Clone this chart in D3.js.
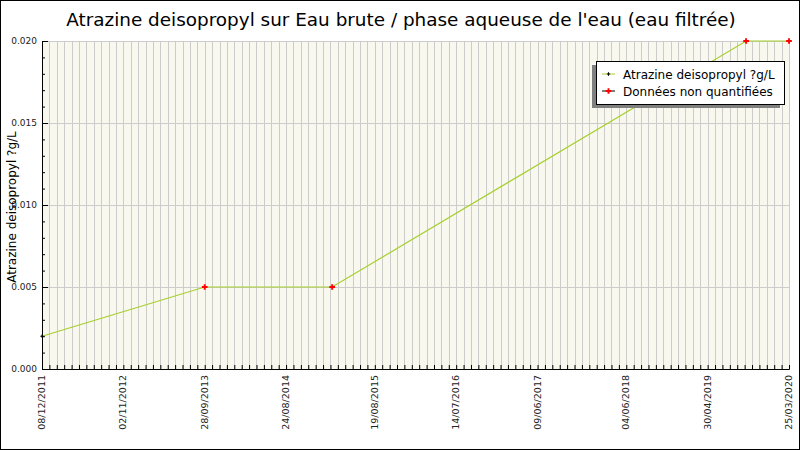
<!DOCTYPE html>
<html>
<head>
<meta charset="utf-8">
<script src="https://cdn.jsdelivr.net/npm/d3@7"></script>
<style>
  body { margin: 0; background: #fff; }
  text { font-family: "DejaVu Sans", sans-serif; }
</style>
</head>
<body>
<script>
var margin = {top: 41, right: 11, bottom: 81, left: 42},
    W = 800, H = 450,
    w = W - margin.left - margin.right,
    h = H - margin.top - margin.bottom;

var title = "Atrazine deisopropyl sur Eau brute / phase aqueuse de l'eau (eau filtrée)";
var yTitle = "Atrazine deisopropyl ?g/L";

// mesures
var dates = ["08/12/2011", "28/09/2013", "27/02/2015", "03/10/2019", "25/03/2020"];
var values = [0.002, 0.005, 0.005, 0.020, 0.020];
var quantified = [true, false, false, false, false];

// axes
var xTickLabels = ["08/12/2011", "02/11/2012", "28/09/2013", "24/08/2014", "19/08/2015",
                   "14/07/2016", "09/06/2017", "04/06/2018", "30/04/2019", "25/03/2020"];
var yTicks = [0, 0.005, 0.010, 0.015, 0.020];
var legendLabels = ["Atrazine deisopropyl ?g/L", "Données non quantifiées"];

var parse = d3.timeParse("%d/%m/%Y");
var data = dates.map(function(d, i) { return {date: parse(d), value: values[i], q: quantified[i]}; });
var xStart = parse(xTickLabels[0]), xEnd = parse(xTickLabels[xTickLabels.length - 1]);

var x = d3.scaleTime().domain([xStart, xEnd]).range([0, w]);
var y = d3.scaleLinear().domain([0, 0.02]).range([h, 0]);

// a minor tick every 30 days
var minorX = d3.timeDay.every(1).range(xStart, d3.timeDay.offset(xEnd, 1))
               .filter(function(d, i) { return i % 30 === 0; });
var minorY = d3.range(0, 21).map(function(i) { return i / 1000; });

var marker = function(q) {
  return d3.symbol().type(d3.symbolCross).size(q ? 6 : 18)();
};

var svg = d3.select("body").append("svg")
    .attr("width", W)
    .attr("height", H);

svg.append("rect")
    .attr("x", 0.5).attr("y", 0.5)
    .attr("width", W - 1).attr("height", H - 1)
    .attr("fill", "#fff")
    .attr("stroke", "#000");

svg.append("text")
    .attr("x", W / 2 + 1)
    .attr("y", 26)
    .attr("text-anchor", "middle")
    .attr("font-size", 18.4)
    .attr("fill", "#000")
    .text(title);

var g = svg.append("g")
    .attr("transform", "translate(" + margin.left + "," + margin.top + ")");

g.append("rect")
    .attr("width", w)
    .attr("height", h)
    .attr("fill", "#f8f8ee");

// grid
g.selectAll(".vgrid")
    .data(minorX)
    .enter().append("line")
    .attr("x1", function(d) { return Math.round(x(d)) + 0.5; })
    .attr("x2", function(d) { return Math.round(x(d)) + 0.5; })
    .attr("y1", 0).attr("y2", h)
    .attr("stroke", "#cccccc");

g.selectAll(".hgrid")
    .data(yTicks)
    .enter().append("line")
    .attr("x1", 0).attr("x2", w)
    .attr("y1", function(d) { return Math.round(y(d)) + 0.5; })
    .attr("y2", function(d) { return Math.round(y(d)) + 0.5; })
    .attr("stroke", "#cccccc");

// line
var line = d3.line()
    .x(function(d) { return x(d.date); })
    .y(function(d) { return y(d.value); });

g.append("path")
    .datum(data)
    .attr("d", line)
    .attr("fill", "none")
    .attr("stroke", "#a6cf2e")
    .attr("stroke-width", 1.2);

// axes
var yAxis = d3.axisLeft(y).tickValues(yTicks).tickFormat(d3.format(".3f")).tickSize(-6).tickPadding(5);
var yMinor = d3.axisLeft(y).tickValues(minorY).tickFormat("").tickSize(-3);
var xAxis = d3.axisBottom(x).tickValues(minorX).tickFormat("").tickSize(-4);

g.append("g").call(yMinor).call(function(s) { s.select(".domain").remove(); });
var ya = g.append("g").call(yAxis);
var xa = g.append("g").attr("transform", "translate(0," + h + ")").call(xAxis);

ya.selectAll("text").attr("font-size", 9).attr("fill", "#222").attr("font-family", "DejaVu Sans");
ya.selectAll("line, .domain").attr("stroke", "#000");
xa.selectAll("line, .domain").attr("stroke", "#000");

xa.selectAll(".xlab")
    .data(xTickLabels)
    .enter().append("text")
    .attr("class", "xlab")
    .attr("transform", function(d) { return "translate(" + (x(parse(d)) + 3) + ",6) rotate(-90)"; })
    .attr("text-anchor", "end")
    .attr("font-size", 9.5)
    .attr("fill", "#222")
    .text(function(d) { return d; });

svg.append("text")
    .attr("transform", "translate(16," + (margin.top + h / 2 + 2) + ") rotate(-90)")
    .attr("text-anchor", "middle")
    .attr("font-size", 12)
    .attr("fill", "#000")
    .text(yTitle);

// markers
g.selectAll(".pt")
    .data(data)
    .enter().append("path")
    .attr("transform", function(d) { return "translate(" + x(d.date) + "," + y(d.value) + ")"; })
    .attr("d", function(d) { return marker(d.q); })
    .attr("fill", function(d) { return d.q ? "#000" : "#ff0000"; });

// legend
var lg = svg.append("g").attr("transform", "translate(596,61)");
lg.append("rect").attr("x", -4).attr("y", 4).attr("width", 188).attr("height", 43).attr("fill", "#808080");
lg.append("rect").attr("x", 0.5).attr("y", 0.5).attr("width", 188).attr("height", 43)
    .attr("fill", "#fff").attr("stroke", "#000");

var items = lg.selectAll(".item")
    .data(legendLabels)
    .enter().append("g")
    .attr("transform", function(d, i) { return "translate(0," + (13 + i * 17) + ")"; });

items.append("line")
    .attr("x1", 6).attr("x2", 19)
    .attr("stroke", function(d, i) { return i === 0 ? "#a6cf2e" : "#000"; });
items.append("path")
    .attr("transform", "translate(12.5,0)")
    .attr("d", function(d, i) { return marker(i === 0); })
    .attr("fill", function(d, i) { return i === 0 ? "#000" : "#ff0000"; });
items.append("text")
    .attr("x", 27).attr("y", 4.5)
    .attr("font-size", 12)
    .attr("fill", "#000")
    .text(function(d) { return d; });
</script>
</body>
</html>
